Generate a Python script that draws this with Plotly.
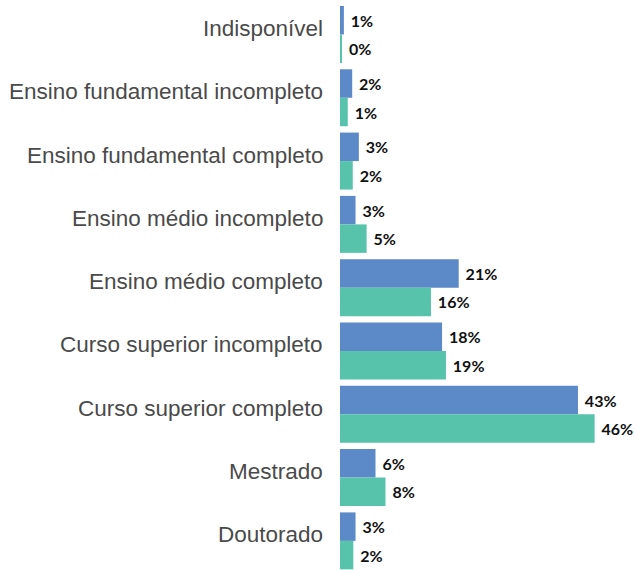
import plotly.graph_objects as go

# Nível de escolaridade: participação (%) em dois grupos
categorias = [
    "Indisponível",
    "Ensino fundamental incompleto",
    "Ensino fundamental completo",
    "Ensino médio incompleto",
    "Ensino médio completo",
    "Curso superior incompleto",
    "Curso superior completo",
    "Mestrado",
    "Doutorado",
]
grupo_a = [0.7, 2.2, 3.4, 2.8, 21.4, 18.4, 42.9, 6.4, 2.8]
grupo_b = [0.35, 1.4, 2.3, 4.8, 16.4, 19.1, 45.9, 8.2, 2.4]

cor_a = "#5c89c7"
cor_b = "#57c3ab"

rotulo = dict(family="Lato", size=16, color="#111111", weight="bold")

fig = go.Figure()
for nome, valores, cor in [("A", grupo_a, cor_a), ("B", grupo_b, cor_b)]:
    fig.add_trace(go.Bar(
        y=categorias,
        x=valores,
        name=nome,
        orientation="h",
        marker=dict(color=cor, line=dict(width=0)),
        texttemplate=" %{x:.0f}%",
        textposition="outside",
        textfont=rotulo,
        cliponaxis=False,
        hoverinfo="skip",
    ))

# Nomes das categorias, alinhados à direita e um pouco acima do centro do grupo
for cat in categorias:
    fig.add_annotation(
        x=0, xref="paper", y=cat, yref="y",
        text=cat, showarrow=False,
        xanchor="right", yanchor="middle",
        xshift=-15, yshift=6,
        font=dict(family="Liberation Sans", size=22.5, color="#4a4a4a"),
    )

fig.update_layout(
    width=634,
    height=570,
    margin=dict(l=340, r=0, t=2, b=0),
    barmode="group",
    bargap=0.1,
    bargroupgap=0,
    showlegend=False,
    plot_bgcolor="white",
    paper_bgcolor="white",
)
fig.update_xaxes(range=[0, 53], visible=False)
fig.update_yaxes(
    range=[8.46, -0.513],
    showgrid=False,
    showline=False,
    zeroline=False,
    ticks="",
    showticklabels=False,
)

fig.write_html("out.html")
